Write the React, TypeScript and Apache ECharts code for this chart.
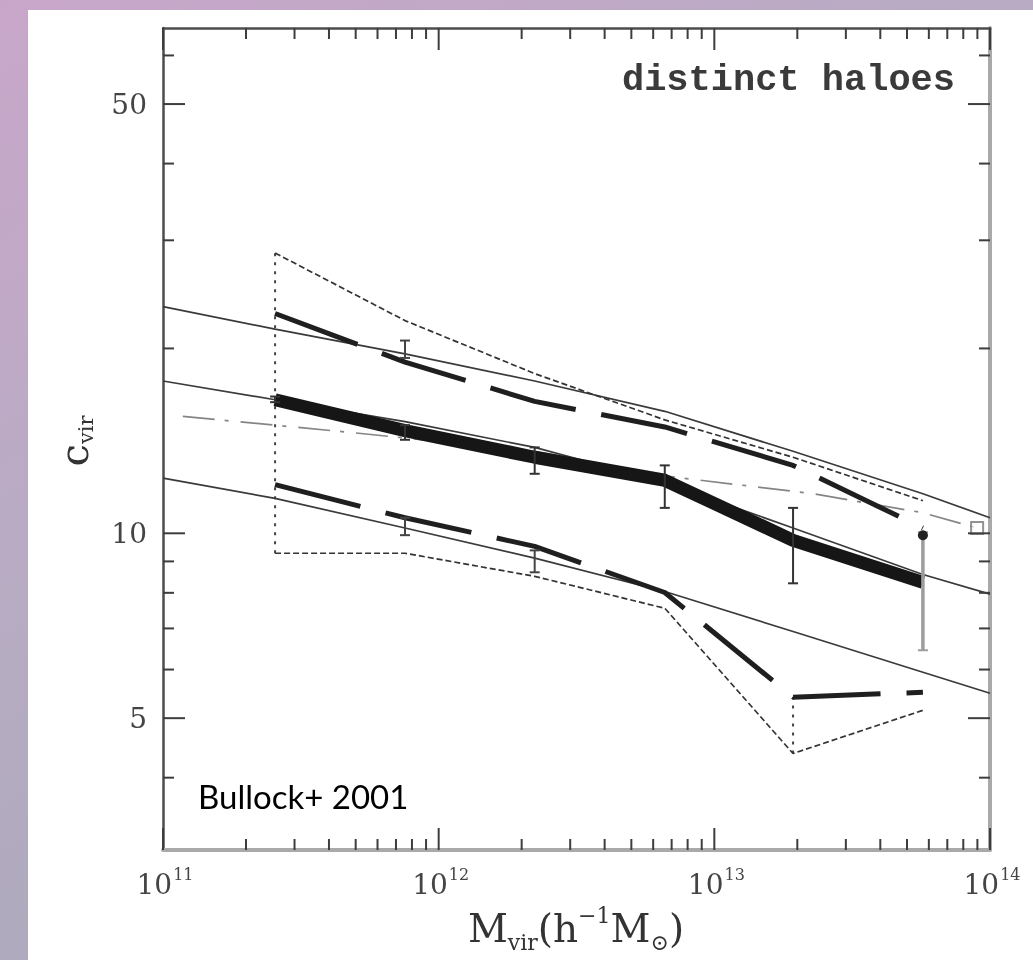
import React, { useEffect, useRef } from "react";
import * as echarts from "echarts";

// ---- axis ranges ----
const X_MIN = 1e11;
const X_MAX = 1e14;
const Y_MIN = 3.05;
const Y_MAX = 66.5;

// ---- simulation bins (M_vir, h^-1 Msun) ----
const binMass = [2.55e11, 7.55e11, 2.23e12, 6.61e12, 1.93e13, 5.71e13];
const medianC = [16.5, 14.7, 13.3, 12.2, 9.74, 8.32];
const upper68C = [22.8, 19.0, 16.4, 14.9, 12.9, 10.2];
const lower68C = [12.0, 10.6, 9.52, 8.01, 5.41, 5.51];
const upperTrueC = [28.6, 22.2, 18.2, 15.3, 13.3, 11.3];
const lowerTrueC = [9.28, 9.28, 8.51, 7.55, 4.38, 5.15];
const medianErrLow = [16.35, 14.2, 12.5, 11.0, 8.29, 6.45];
const medianErrHigh = [16.7, 15.0, 13.8, 12.9, 11.0, 10.04];

// additional error bars on the 68% curves
const extraErrMass = [7.55e11, 7.55e11, 2.23e12];
const extraErrLow = [19.3, 9.93, 8.64];
const extraErrHigh = [20.6, 10.6, 9.38];

// dotted connectors
const dottedMass = [2.55e11, 1.93e13];
const dottedLow = [9.28, 4.38];
const dottedHigh = [28.6, 5.41];

// ---- toy model curves ----
const modelMass = [1e11, 2.55e11, 7.55e11, 2.23e12, 6.61e12, 1.93e13, 5.71e13, 1e14];
const modelUpperC = [23.4, 21.5, 19.6, 17.7, 15.8, 13.6, 11.6, 10.6];
const modelMedianC = [17.7, 16.5, 15.2, 13.8, 12.1, 10.2, 8.57, 7.96];
const modelLowerC = [12.3, 11.4, 10.2, 9.11, 8.04, 6.92, 5.94, 5.49];

// ---- NFW prediction (dot-dashed) ----
const nfwMass = [1.18e11, 4.77e11, 2.23e12, 6.61e12, 2.28e13, 5.71e13, 8.98e13];
const nfwC = [15.5, 14.6, 13.6, 12.4, 11.6, 10.8, 10.2];

// ---- ticks ----
const xMajorTicks = [1e11, 1e12, 1e13, 1e14];
const xTickExponents = ["11", "12", "13", "14"];
const xMinorTicks = [
  2e11, 3e11, 4e11, 5e11, 6e11, 7e11, 8e11, 9e11,
  2e12, 3e12, 4e12, 5e12, 6e12, 7e12, 8e12, 9e12,
  2e13, 3e13, 4e13, 5e13, 6e13, 7e13, 8e13, 9e13,
];
const yMajorTicks = [5, 10, 50];
const yTickLabels = ["5", "10", "50"];
const yMinorTicks = [4, 6, 7, 8, 9, 20, 30, 40, 60];

const pairs = (xs: number[], ys: number[]) => xs.map((x, i) => [x, ys[i]]);

const SERIF = '"DejaVu Serif", "Liberation Serif", serif';

function buildOption(): any {
  const axisCommon = {
    type: "log",
    logBase: 10,
    axisTick: { show: false },
    axisLabel: { show: false },
    splitLine: { show: false },
    minorTick: { show: false },
  };
  const darkEdge = { show: true, onZero: false, lineStyle: { color: "#4d4d4d", width: 2.5 } };
  const lightEdge = { show: true, onZero: false, lineStyle: { color: "#a9a9a9", width: 4 } };

  const thin = (color: string, type: any = "solid") => ({ color, width: 1.7, type });

  const tickData: number[][] = [
    ...xMajorTicks.map((m) => [m, Y_MIN, 1, 0]),
    ...xMinorTicks.map((m) => [m, Y_MIN, 0, 0]),
    ...yMajorTicks.map((c) => [X_MIN, c, 1, 1]),
    ...yMinorTicks.map((c) => [X_MIN, c, 0, 1]),
  ];

  const errRender = (colorFn: (i: number) => string, widthFn: (i: number) => number, dot: (i: number) => boolean) =>
    (params: any, api: any) => {
      const i = params.dataIndex;
      const lo = api.coord([api.value(0), api.value(1)]);
      const hi = api.coord([api.value(0), api.value(2)]);
      const color = colorFn(i);
      const cap = 5;
      const children: any[] = [
        { type: "line", shape: { x1: lo[0], y1: lo[1], x2: hi[0], y2: hi[1] }, style: { stroke: color, lineWidth: widthFn(i) } },
        { type: "line", shape: { x1: lo[0] - cap, y1: lo[1], x2: lo[0] + cap, y2: lo[1] }, style: { stroke: color, lineWidth: 2 } },
        { type: "line", shape: { x1: hi[0] - cap, y1: hi[1], x2: hi[0] + cap, y2: hi[1] }, style: { stroke: color, lineWidth: 2 } },
      ];
      if (dot(i)) {
        children.push({ type: "circle", shape: { cx: hi[0], cy: hi[1] + 3, r: 5 }, style: { fill: "#222" } });
      }
      return { type: "group", children };
    };

  return {
    animation: false,
    graphic: [
      {
        type: "rect",
        z: -20,
        silent: true,
        shape: { x: 0, y: 0, width: 1033, height: 960 },
        style: {
          fill: new echarts.graphic.LinearGradient(0, 0, 0.6, 1, [
            { offset: 0, color: "#c8a6ca" },
            { offset: 0.5, color: "#b6acc2" },
            { offset: 1, color: "#a8a8b8" },
          ]),
        },
      },
      {
        type: "rect",
        z: -10,
        silent: true,
        shape: { x: 28, y: 10, width: 1005, height: 950 },
        style: { fill: "#ffffff" },
      },
      {
        type: "text",
        x: 955,
        y: 80,
        style: {
          text: "distinct haloes",
          font: 'bold 37px "Liberation Mono", "DejaVu Sans Mono", monospace',
          fill: "#3a3a3a",
          align: "right",
          verticalAlign: "middle",
        },
      },
      {
        type: "text",
        x: 198,
        y: 796,
        style: {
          text: "Bullock+ 2001",
          font: '33px Lato, "Open Sans", sans-serif',
          fill: "#000000",
          align: "left",
          verticalAlign: "middle",
        },
      },
      {
        type: "text",
        x: 576,
        y: 928,
        style: {
          text: "{m|M}{sb|vir}{m|(h}{sp|−1}{m|M}{sb|⊙}{m|)}",
          align: "center",
          verticalAlign: "middle",
          fill: "#333",
          rich: {
            m: { fontFamily: SERIF, fontSize: 39, fill: "#333", verticalAlign: "middle" },
            sb: { fontFamily: SERIF, fontSize: 22, fill: "#333", verticalAlign: "middle", padding: [28, 0, 0, 0] },
            sp: { fontFamily: SERIF, fontSize: 22, fill: "#333", verticalAlign: "middle", padding: [0, 0, 26, 0] },
          },
        },
      },
      {
        type: "text",
        x: 74,
        y: 441,
        rotation: Math.PI / 2,
        style: {
          text: "{m|c}{sb|vir}",
          align: "center",
          verticalAlign: "middle",
          fill: "#333",
          rich: {
            m: { fontFamily: SERIF, fontSize: 40, fill: "#333", verticalAlign: "middle" },
            sb: { fontFamily: SERIF, fontSize: 21, fill: "#333", verticalAlign: "middle", padding: [24, 0, 0, 0] },
          },
        },
      },
    ],
    grid: { left: 163, right: 43, top: 28, bottom: 110, show: false },
    xAxis: [
      { ...axisCommon, gridIndex: 0, position: "bottom", min: X_MIN, max: X_MAX, axisLine: lightEdge },
      { ...axisCommon, gridIndex: 0, position: "top", min: X_MIN, max: X_MAX, axisLine: darkEdge },
    ],
    yAxis: [
      { ...axisCommon, gridIndex: 0, position: "left", min: Y_MIN, max: Y_MAX, axisLine: darkEdge },
      { ...axisCommon, gridIndex: 0, position: "right", min: Y_MIN, max: Y_MAX, axisLine: lightEdge },
    ],
    series: [
      { name: "model upper", type: "line", symbol: "none", data: pairs(modelMass, modelUpperC), lineStyle: thin("#3a3a3a"), z: 2 },
      { name: "model median", type: "line", symbol: "none", data: pairs(modelMass, modelMedianC), lineStyle: thin("#3a3a3a"), z: 2 },
      { name: "model lower", type: "line", symbol: "none", data: pairs(modelMass, modelLowerC), lineStyle: thin("#3a3a3a"), z: 2 },
      { name: "NFW", type: "line", symbol: "none", data: pairs(nfwMass, nfwC), lineStyle: thin("#858585", [32, 10, 4, 12]), z: 2 },
      { name: "upper true", type: "line", symbol: "none", data: pairs(binMass, upperTrueC), lineStyle: thin("#333333", [6, 3]), z: 2 },
      { name: "lower true", type: "line", symbol: "none", data: pairs(binMass, lowerTrueC), lineStyle: thin("#333333", [6, 3]), z: 2 },
      { name: "upper 68%", type: "line", symbol: "none", data: pairs(binMass, upper68C), lineStyle: { color: "#1f1f1f", width: 5, type: [88, 26] }, z: 3 },
      { name: "lower 68%", type: "line", symbol: "none", data: pairs(binMass, lower68C), lineStyle: { color: "#1f1f1f", width: 5, type: [88, 26] }, z: 3 },
      { name: "median", type: "line", symbol: "none", data: pairs(binMass, medianC), lineStyle: { color: "#161616", width: 13, join: "round" }, z: 4 },
      {
        name: "NFW end",
        type: "scatter",
        data: [[nfwMass[nfwMass.length - 1], nfwC[nfwC.length - 1]]],
        symbol: "rect",
        symbolSize: 12,
        itemStyle: { color: "#ffffff", borderColor: "#777777", borderWidth: 2 },
        z: 4,
      },
      {
        name: "median errors",
        type: "custom",
        clip: false,
        silent: true,
        z: 5,
        encode: { x: 0, y: [1, 2] },
        data: binMass.map((m, i) => [m, medianErrLow[i], medianErrHigh[i]]),
        renderItem: errRender(
          (i) => (i === binMass.length - 1 ? "#9d9d9d" : "#333333"),
          (i) => (i === binMass.length - 1 ? 3.5 : 2),
          (i) => i === binMass.length - 1
        ),
      },
      {
        name: "68% errors",
        type: "custom",
        clip: false,
        silent: true,
        z: 5,
        encode: { x: 0, y: [1, 2] },
        data: extraErrMass.map((m, i) => [m, extraErrLow[i], extraErrHigh[i]]),
        renderItem: errRender(() => "#444444", () => 2, () => false),
      },
      {
        name: "dotted",
        type: "custom",
        clip: false,
        silent: true,
        z: 2,
        encode: { x: 0, y: [1, 2] },
        data: dottedMass.map((m, i) => [m, dottedLow[i], dottedHigh[i]]),
        renderItem: (params: any, api: any) => {
          const lo = api.coord([api.value(0), api.value(1)]);
          const hi = api.coord([api.value(0), api.value(2)]);
          return {
            type: "line",
            shape: { x1: lo[0], y1: lo[1], x2: hi[0], y2: hi[1] },
            style: { stroke: "#444", lineWidth: 2, lineDash: [3, 6] },
          };
        },
      },
      {
        name: "ticks",
        type: "custom",
        clip: false,
        silent: true,
        z: 6,
        encode: { x: 0, y: 1 },
        data: tickData,
        renderItem: (params: any, api: any) => {
          const v0 = api.value(0);
          const v1 = api.value(1);
          const len = api.value(2) ? 22 : 11;
          const side = api.value(3);
          const style = { stroke: "#3d3d3d", lineWidth: 2 };
          if (side === 0) {
            const b = api.coord([v0, Y_MIN]);
            const t = api.coord([v0, Y_MAX]);
            return {
              type: "group",
              children: [
                { type: "line", shape: { x1: b[0], y1: b[1], x2: b[0], y2: b[1] - len }, style },
                { type: "line", shape: { x1: t[0], y1: t[1], x2: t[0], y2: t[1] + len }, style },
              ],
            };
          }
          const l = api.coord([X_MIN, v1]);
          const r = api.coord([X_MAX, v1]);
          return {
            type: "group",
            children: [
              { type: "line", shape: { x1: l[0], y1: l[1], x2: l[0] + len, y2: l[1] }, style },
              { type: "line", shape: { x1: r[0], y1: r[1], x2: r[0] - len, y2: r[1] }, style },
            ],
          };
        },
      },
      {
        name: "x labels",
        type: "custom",
        clip: false,
        silent: true,
        z: 6,
        encode: { x: 0, y: 1 },
        data: xMajorTicks.map((m) => [m, Y_MIN]),
        renderItem: (params: any, api: any) => {
          const p = api.coord([api.value(0), Y_MIN]);
          return {
            type: "text",
            x: p[0] + 2,
            y: p[1] + 34,
            style: {
              text: "{b|10}{s|" + xTickExponents[params.dataIndex] + "}",
              align: "center",
              verticalAlign: "middle",
              rich: {
                b: { fontFamily: SERIF, fontSize: 28, fill: "#444", verticalAlign: "middle" },
                s: { fontFamily: SERIF, fontSize: 16, fill: "#444", verticalAlign: "middle", padding: [0, 0, 19, 1] },
              },
            },
          };
        },
      },
      {
        name: "y labels",
        type: "custom",
        clip: false,
        silent: true,
        z: 6,
        encode: { x: 0, y: 1 },
        data: yMajorTicks.map((c) => [X_MIN, c]),
        renderItem: (params: any, api: any) => {
          const p = api.coord([X_MIN, api.value(1)]);
          return {
            type: "text",
            x: p[0] - 16,
            y: p[1],
            style: {
              text: yTickLabels[params.dataIndex],
              font: "28px " + SERIF,
              fill: "#444",
              align: "right",
              verticalAlign: "middle",
            },
          };
        },
      },
    ],
  };
}

export default function App() {
  const ref = useRef<HTMLDivElement>(null);
  useEffect(() => {
    if (!ref.current) return;
    const chart = echarts.init(ref.current, undefined, { renderer: "svg" });
    chart.setOption(buildOption());
    return () => chart.dispose();
  }, []);
  return <div ref={ref} style={{ position: "fixed", left: 0, top: 0, width: 1033, height: 960 }} />;
}
